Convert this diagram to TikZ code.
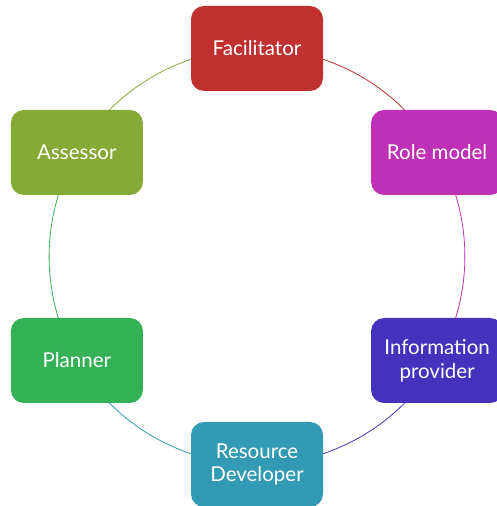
\documentclass[tikz,border=0pt]{standalone}
\usepackage{fontspec}
\setmainfont{Lato}
\usetikzlibrary{backgrounds}
\definecolor{cFac}{HTML}{C0302F}
\definecolor{cRole}{HTML}{BE30B5}
\definecolor{cInfo}{HTML}{4432BD}
\definecolor{cRes}{HTML}{329AB2}
\definecolor{cPlan}{HTML}{34B055}
\definecolor{cAss}{HTML}{86AA36}
\tikzset{
  rolebox/.style={draw=none, rounded corners=13pt, minimum width=132pt, minimum height=85pt,
    inner sep=0pt, text=white, align=center, font=\fontsize{20.5}{23.5}\selectfont},
  ring/.style={line width=0.8pt, bend left=30, looseness=0.912}
}
\begin{document}
\begin{tikzpicture}[x=1pt,y=1pt]
\useasboundingbox (0,0) rectangle (497,506);
\coordinate (c) at (257,249.5);
\node[rolebox, fill=cFac]  (fac)  at ([shift={(90:208pt)}]c)  {Facilitator};
\node[rolebox, fill=cRole] (role) at ([shift={(30:208pt)}]c)  {Role model};
\node[rolebox, fill=cInfo] (info) at ([shift={(-30:208pt)}]c) {Information\\provider};
\node[rolebox, fill=cRes]  (res)  at ([shift={(-90:208pt)}]c) {Resource\\Developer};
\node[rolebox, fill=cPlan] (plan) at ([shift={(-150:208pt)}]c) {Planner};
\node[rolebox, fill=cAss]  (ass)  at ([shift={(150:208pt)}]c) {Assessor};
\begin{scope}[on background layer]
\draw[ring, cFac]  (fac.center)  to (role.center);
\draw[ring, cRole] (role.center) to (info.center);
\draw[ring, cInfo] (info.center) to (res.center);
\draw[ring, cRes]  (res.center)  to (plan.center);
\draw[ring, cPlan] (plan.center) to (ass.center);
\draw[ring, cAss]  (ass.center)  to (fac.center);
\end{scope}
\end{tikzpicture}
\end{document}
